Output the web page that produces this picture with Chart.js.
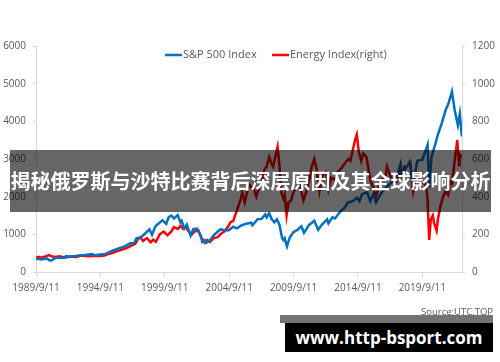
<!DOCTYPE html>
<html>
<head>
<meta charset="utf-8">
<script src="https://cdn.jsdelivr.net/npm/chart.js@4.4.1/dist/chart.umd.min.js"></script>
<style>
  html, body { margin: 0; padding: 0; background: #fff; }
  #wrap { position: relative; width: 500px; height: 362px; overflow: hidden; }
  #c { position: absolute; left: 0; top: 0; }
  .banner { position: absolute; left: 10px; top: 150px; width: 481px; height: 62px;
    background: rgba(0,0,0,0.6); color: #fff; font-family: "Noto Sans CJK SC", sans-serif;
    font-weight: bold; font-size: 20px; line-height: 62px; text-align: center; white-space: nowrap; letter-spacing: 0px; }
  .source { position: absolute; right: 7px; top: 305px; font-family: "Open Sans", sans-serif;
    font-size: 9.5px; color: #595959; }
  .strip { position: absolute; left: 280px; top: 315px; width: 213px; height: 8px; background: rgba(0,0,0,0.55); }
  .wm { position: absolute; left: 285px; top: 323px; width: 208px; height: 29px; background: #000;
    color: #fff; font-family: "Open Sans", sans-serif; font-weight: bold; font-size: 17px;
    line-height: 29px; text-align: center; white-space: nowrap; }
</style>
</head>
<body>
<div id="wrap">
  <canvas id="c" width="500" height="362"></canvas>
  <div class="source">Source:UTC.TOP</div>
  <div class="banner">揭秘俄罗斯与沙特比赛背后深层原因及其全球影响分析</div>
  <div class="strip"></div>
  <div class="wm">www.http-bsport.com</div>
</div>
<script>
// ---- data ----
const seriesNames = ["S&P 500 Index", "Energy Index(right)"];

const spxYears = [1989.69,1989.9,1990.0,1990.1,1990.5,1990.8,1991.0,1991.2,1991.5,1991.9,1992.0,1992.5,1992.9,1993.0,1993.5,1994.0,1994.3,1994.69,1995.0,1995.5,1996.0,1996.5,1997.0,1997.3,1997.5,1997.8,1998.0,1998.5,1998.7,1998.9,1999.0,1999.5,1999.8,2000.0,2000.2,2000.4,2000.7,2000.9,2001.0,2001.2,2001.4,2001.7,2001.9,2002.2,2002.5,2002.6,2002.8,2002.95,2003.2,2003.5,2004.0,2004.5,2004.69,2005.0,2005.3,2005.6,2006.0,2006.4,2006.5,2006.9,2007.2,2007.5,2007.6,2007.8,2008.0,2008.2,2008.4,2008.6,2008.8,2008.9,2009.0,2009.18,2009.4,2009.69,2010.0,2010.3,2010.5,2010.9,2011.3,2011.6,2011.9,2012.3,2012.4,2012.7,2012.9,2013.3,2013.6,2013.9,2014.3,2014.6,2014.8,2015.0,2015.4,2015.65,2015.9,2016.1,2016.5,2016.9,2017.3,2017.7,2018.0,2018.1,2018.5,2018.7,2018.98,2019.3,2019.7,2020.1,2020.22,2020.4,2020.7,2020.9,2021.2,2021.5,2021.7,2021.99,2022.2,2022.45,2022.6,2022.76];
const spxValues = [349,345,340,330,360,300,330,375,380,375,415,410,430,440,450,475,445,465,470,545,615,670,760,760,900,915,970,1130,990,1160,1230,1370,1280,1460,1500,1420,1510,1320,1360,1150,1260,965,1140,1150,950,800,850,780,840,980,1130,1100,1115,1200,1160,1230,1280,1310,1240,1400,1410,1530,1450,1560,1400,1320,1400,1250,900,850,900,680,920,1060,1120,1210,1040,1250,1360,1120,1260,1400,1290,1450,1420,1600,1690,1840,1880,1970,1880,2060,2120,1880,2080,1850,2100,2250,2380,2510,2870,2600,2800,2920,2350,2950,2980,3380,2240,3050,3400,3650,3950,4300,4450,4790,4300,3900,4200,3600];

const energyYears = [1989.69,1989.9,1990.1,1990.4,1990.7,1990.9,1991.2,1991.5,1991.8,1992.1,1992.4,1992.8,1993.2,1993.5,1993.9,1994.3,1994.69,1995.0,1995.3,1995.6,1995.9,1996.2,1996.5,1996.8,1997.1,1997.4,1997.6,1997.8,1998.0,1998.3,1998.6,1998.8,1999.0,1999.3,1999.6,1999.9,2000.2,2000.4,2000.7,2000.9,2001.1,2001.3,2001.6,2001.8,2002.0,2002.3,2002.5,2002.8,2003.0,2003.2,2003.5,2003.8,2004.0,2004.3,2004.6,2004.8,2005.0,2005.3,2005.6,2005.7,2005.9,2006.1,2006.3,2006.6,2006.8,2007.0,2007.2,2007.4,2007.6,2007.8,2007.95,2008.1,2008.3,2008.45,2008.6,2008.75,2008.9,2009.0,2009.15,2009.3,2009.5,2009.7,2009.9,2010.2,2010.45,2010.7,2010.9,2011.1,2011.3,2011.5,2011.7,2011.9,2012.2,2012.4,2012.6,2012.9,2013.1,2013.4,2013.7,2013.95,2014.1,2014.3,2014.5,2014.6,2014.75,2014.95,2015.1,2015.35,2015.6,2015.75,2015.95,2016.05,2016.3,2016.5,2016.8,2016.95,2017.2,2017.45,2017.7,2017.95,2018.1,2018.3,2018.5,2018.75,2018.98,2019.2,2019.4,2019.6,2019.8,2020.0,2020.1,2020.22,2020.35,2020.5,2020.6,2020.8,2020.9,2021.1,2021.3,2021.5,2021.7,2021.85,2022.0,2022.2,2022.4,2022.55,2022.65,2022.76];
const energyValues = [75,80,76,82,90,84,80,83,80,78,82,80,87,85,83,86,85,88,95,100,108,115,122,130,140,150,175,185,165,180,158,172,160,200,215,195,215,238,228,245,230,240,210,200,215,220,185,155,170,160,180,185,200,215,240,265,270,330,390,420,370,430,460,440,400,450,470,540,560,610,580,560,620,665,560,420,390,410,300,370,380,430,440,455,380,430,490,560,600,540,430,510,530,440,500,490,530,550,580,600,590,650,710,730,640,590,630,610,510,470,440,390,450,490,500,560,510,480,480,540,510,560,560,580,430,510,490,470,480,450,380,170,280,300,260,220,280,350,400,430,410,480,470,590,700,560,620,610];

const xTickValues = [1989.69,1994.69,1999.69,2004.69,2009.69,2014.69,2019.69];
const xTickLabels = ["1989/9/11","1994/9/11","1999/9/11","2004/9/11","2009/9/11","2014/9/11","2019/9/11"];
const leftTicks = [0,1000,2000,3000,4000,5000,6000];
const rightTicks = [0,200,400,600,800,1000,1200];

// ---- chart ----
const toXY = (xs, ys) => xs.map((x, i) => ({ x: x, y: ys[i] }));
const gridCol = '#d9d9d9';
const tickFont = { family: 'Open Sans', size: 10 };

const customLegend = {
  id: 'customLegend',
  afterDraw(chart) {
    const ctx = chart.ctx;
    const pos = [165, 272];
    const y = 55;
    ctx.save();
    ctx.font = '11px "Open Sans"';
    ctx.textBaseline = 'middle';
    chart.data.datasets.forEach((ds, i) => {
      ctx.strokeStyle = ds.borderColor;
      ctx.lineWidth = 2.5;
      ctx.beginPath();
      ctx.moveTo(pos[i], y);
      ctx.lineTo(pos[i] + 17, y);
      ctx.stroke();
      ctx.fillStyle = '#595959';
      ctx.fillText(ds.label, pos[i] + 18, y);
    });
    ctx.restore();
  }
};

new Chart(document.getElementById('c'), {
  type: 'line',
  data: {
    datasets: [
      { label: seriesNames[0], data: toXY(spxYears, spxValues), borderColor: '#0070C0', backgroundColor: '#0070C0',
        borderWidth: 2.5, pointRadius: 0, tension: 0, yAxisID: 'y' },
      { label: seriesNames[1], data: toXY(energyYears, energyValues), borderColor: '#FF0000', backgroundColor: '#FF0000',
        borderWidth: 2.5, pointRadius: 0, tension: 0, yAxisID: 'y1' }
    ]
  },
  options: {
    responsive: false,
    animation: false,
    layout: { padding: { top: 46, left: 0, right: 0, bottom: 0 } },
    plugins: { legend: { display: false }, tooltip: { enabled: false } },
    scales: {
      x: {
        type: 'linear', min: 1989.69, max: 2022.77,
        afterBuildTicks: (s) => { s.ticks = xTickValues.map(v => ({ value: v })); },
        afterFit: (s) => { s.height = 90; },
        ticks: { autoSkip: false, maxRotation: 0, minRotation: 0, color: '#595959', font: tickFont, padding: 5,
          callback: (v, i) => xTickLabels[i] },
        grid: { drawOnChartArea: false, drawTicks: true, tickLength: 5, color: gridCol },
        border: { display: true, color: gridCol }
      },
      y: {
        position: 'left', min: 0, max: 6000,
        afterBuildTicks: (s) => { s.ticks = leftTicks.map(v => ({ value: v })); },
        afterFit: (s) => { s.width = 36; },
        ticks: { color: '#595959', font: tickFont, padding: 7, callback: (v) => String(v) },
        grid: { drawOnChartArea: false, drawTicks: true, tickLength: 3, color: gridCol },
        border: { display: true, color: gridCol }
      },
      y1: {
        position: 'right', min: 0, max: 1200,
        afterBuildTicks: (s) => { s.ticks = rightTicks.map(v => ({ value: v })); },
        afterFit: (s) => { s.width = 38; },
        ticks: { color: '#595959', font: tickFont, padding: 7, callback: (v) => String(v) },
        grid: { drawOnChartArea: false, drawTicks: true, tickLength: 3, color: gridCol },
        border: { display: true, color: gridCol }
      }
    }
  },
  plugins: [customLegend]
});
</script>
</body>
</html>
